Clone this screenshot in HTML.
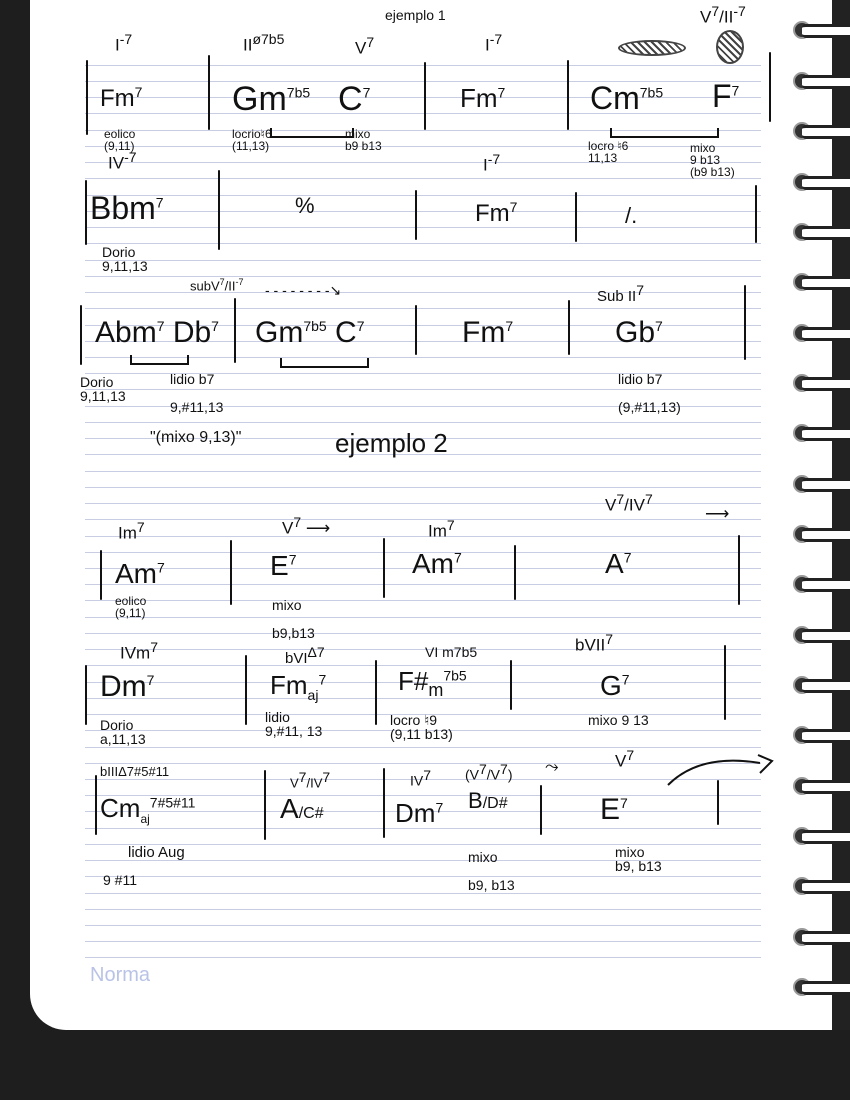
<!DOCTYPE html>
<html><head><meta charset="utf-8"><style>
html,body{margin:0;padding:0}
body{width:850px;height:1100px;position:relative;overflow:hidden;background:#1e1e1e;font-family:"Liberation Sans",sans-serif;color:#111}
#page{position:absolute;left:30px;top:-20px;width:802px;height:1050px;background:#fff;border-radius:0 0 0 36px}
.rl{position:absolute;left:85px;width:676px;height:1px;background:#c9cde3}
.b{position:absolute;width:2px;background:#111;border-radius:1px}
.t{position:absolute;white-space:nowrap;line-height:1}
.c{font-size:28px;font-family:"Liberation Sans",sans-serif;font-weight:normal}
.s{font-size:12px}
.r{font-size:17px}
sup{font-size:14px}
.ring{position:absolute;left:793px;width:57px;height:18px}
.ring .h{position:absolute;left:0;top:0;width:18px;height:18px;border-radius:50%;background:#333;border:2px solid #999;box-sizing:border-box}
.ring .w{position:absolute;left:9px;top:3px;width:48px;height:8px;background:#fff;border-top:3px solid #222;border-bottom:3px solid #222;border-radius:4px 0 0 4px}
#strip{position:absolute;left:832px;top:0;width:18px;height:1030px;background:#222}
.br{position:absolute;border:2px solid #111;border-top:none;height:8px}
</style></head><body>
<div id="page"></div>
<div id="strip"></div>
<div class="rl" style="top:65px"></div><div class="rl" style="top:81px"></div><div class="rl" style="top:97px"></div><div class="rl" style="top:113px"></div><div class="rl" style="top:130px"></div><div class="rl" style="top:146px"></div><div class="rl" style="top:162px"></div><div class="rl" style="top:178px"></div><div class="rl" style="top:195px"></div><div class="rl" style="top:211px"></div><div class="rl" style="top:227px"></div><div class="rl" style="top:243px"></div><div class="rl" style="top:260px"></div><div class="rl" style="top:276px"></div><div class="rl" style="top:292px"></div><div class="rl" style="top:308px"></div><div class="rl" style="top:325px"></div><div class="rl" style="top:341px"></div><div class="rl" style="top:357px"></div><div class="rl" style="top:373px"></div><div class="rl" style="top:389px"></div><div class="rl" style="top:406px"></div><div class="rl" style="top:422px"></div><div class="rl" style="top:438px"></div><div class="rl" style="top:454px"></div><div class="rl" style="top:471px"></div><div class="rl" style="top:487px"></div><div class="rl" style="top:503px"></div><div class="rl" style="top:519px"></div><div class="rl" style="top:536px"></div><div class="rl" style="top:552px"></div><div class="rl" style="top:568px"></div><div class="rl" style="top:584px"></div><div class="rl" style="top:600px"></div><div class="rl" style="top:617px"></div><div class="rl" style="top:633px"></div><div class="rl" style="top:649px"></div><div class="rl" style="top:665px"></div><div class="rl" style="top:682px"></div><div class="rl" style="top:698px"></div><div class="rl" style="top:714px"></div><div class="rl" style="top:730px"></div><div class="rl" style="top:747px"></div><div class="rl" style="top:763px"></div><div class="rl" style="top:779px"></div><div class="rl" style="top:795px"></div><div class="rl" style="top:811px"></div><div class="rl" style="top:828px"></div><div class="rl" style="top:844px"></div><div class="rl" style="top:860px"></div><div class="rl" style="top:876px"></div><div class="rl" style="top:893px"></div><div class="rl" style="top:909px"></div><div class="rl" style="top:925px"></div><div class="rl" style="top:941px"></div><div class="rl" style="top:957px"></div>
<div class="t" style="left:90px;top:965px;font-size:20px;color:#b9c3e6">Norma</div>

<div class="ring" style="top:21px"><div class="h"></div><div class="w"></div></div>
<div class="ring" style="top:72px"><div class="h"></div><div class="w"></div></div>
<div class="ring" style="top:122px"><div class="h"></div><div class="w"></div></div>
<div class="ring" style="top:173px"><div class="h"></div><div class="w"></div></div>
<div class="ring" style="top:223px"><div class="h"></div><div class="w"></div></div>
<div class="ring" style="top:273px"><div class="h"></div><div class="w"></div></div>
<div class="ring" style="top:324px"><div class="h"></div><div class="w"></div></div>
<div class="ring" style="top:374px"><div class="h"></div><div class="w"></div></div>
<div class="ring" style="top:424px"><div class="h"></div><div class="w"></div></div>
<div class="ring" style="top:475px"><div class="h"></div><div class="w"></div></div>
<div class="ring" style="top:525px"><div class="h"></div><div class="w"></div></div>
<div class="ring" style="top:575px"><div class="h"></div><div class="w"></div></div>
<div class="ring" style="top:626px"><div class="h"></div><div class="w"></div></div>
<div class="ring" style="top:676px"><div class="h"></div><div class="w"></div></div>
<div class="ring" style="top:726px"><div class="h"></div><div class="w"></div></div>
<div class="ring" style="top:777px"><div class="h"></div><div class="w"></div></div>
<div class="ring" style="top:827px"><div class="h"></div><div class="w"></div></div>
<div class="ring" style="top:877px"><div class="h"></div><div class="w"></div></div>
<div class="ring" style="top:928px"><div class="h"></div><div class="w"></div></div>
<div class="ring" style="top:978px"><div class="h"></div><div class="w"></div></div>

<!-- Row 1 -->
<div class="b" style="left:86px;top:60px;height:75px"></div>
<div class="b" style="left:208px;top:55px;height:75px"></div>
<div class="b" style="left:424px;top:62px;height:68px"></div>
<div class="b" style="left:567px;top:60px;height:70px"></div>
<div class="b" style="left:769px;top:52px;height:70px"></div>
<div class="t r" style="left:115px;top:32px">I<sup>-7</sup></div>
<div class="t r" style="left:243px;top:32px">II<sup>ø7b5</sup></div>
<div class="t r" style="left:355px;top:35px">V<sup>7</sup></div>
<div class="t s" style="left:385px;top:8px;font-size:14px">ejemplo 1</div>
<div class="t r" style="left:485px;top:32px">I<sup>-7</sup></div>
<div class="t r" style="left:700px;top:4px">V<sup>7</sup>/II<sup>-7</sup></div>
<div class="t" style="left:618px;top:40px;width:64px;height:12px;border:2px solid #444;background:repeating-linear-gradient(45deg,#444 0 2px,#fff 2px 5px);border-radius:50%"></div>
<div class="t" style="left:716px;top:30px;width:24px;height:30px;border:2px solid #444;background:repeating-linear-gradient(45deg,#444 0 2px,#fff 2px 5px);border-radius:50%"></div>
<div class="t c" style="left:100px;top:85px;font-size:24px">Fm<sup>7</sup></div>
<div class="t c" style="left:232px;top:82px;font-size:34px">Gm<sup>7b5</sup></div>
<div class="t c" style="left:338px;top:82px;font-size:34px">C<sup>7</sup></div>
<div class="t c" style="left:460px;top:85px;font-size:26px">Fm<sup>7</sup></div>
<div class="t c" style="left:590px;top:82px;font-size:32px">Cm<sup>7b5</sup></div>
<div class="t c" style="left:712px;top:80px;font-size:32px">F<sup>7</sup></div>
<div class="br" style="left:270px;top:128px;width:80px"></div>
<div class="br" style="left:610px;top:128px;width:105px"></div>
<div class="t s" style="left:104px;top:128px">eolico<br>(9,11)</div>
<div class="t s" style="left:232px;top:128px">locrio♮6<br>(11,13)</div>
<div class="t s" style="left:345px;top:128px">mixo<br>b9 b13</div>
<div class="t s" style="left:588px;top:140px">locro ♮6<br>11,13</div>
<div class="t s" style="left:690px;top:142px">mixo<br>9 b13<br>(b9 b13)</div>

<!-- Row 2 -->
<div class="t r" style="left:108px;top:150px">IV<sup>-7</sup></div>
<div class="t r" style="left:483px;top:152px">I<sup>-7</sup></div>
<div class="b" style="left:85px;top:180px;height:65px"></div>
<div class="b" style="left:218px;top:170px;height:80px"></div>
<div class="b" style="left:415px;top:190px;height:50px"></div>
<div class="b" style="left:575px;top:192px;height:50px"></div>
<div class="b" style="left:755px;top:185px;height:58px"></div>
<div class="t c" style="left:90px;top:192px;font-size:32px">Bbm<sup>7</sup></div>
<div class="t c" style="left:295px;top:195px;font-size:22px">%</div>
<div class="t c" style="left:475px;top:200px;font-size:24px">Fm<sup>7</sup></div>
<div class="t c" style="left:625px;top:205px;font-size:22px">/.</div>
<div class="t s" style="left:102px;top:245px;font-size:14px">Dorio<br>9,11,13</div>

<!-- Row 3 -->
<div class="t s" style="left:190px;top:278px;font-size:13px">subV<sup style="font-size:9px">7</sup>/II<sup style="font-size:9px">-7</sup></div>
<div class="t s" style="left:265px;top:283px;font-size:14px">- - - - - - - -↘</div>
<div class="t r" style="left:597px;top:283px;font-size:15px">Sub II<sup>7</sup></div>
<div class="b" style="left:80px;top:305px;height:60px"></div>
<div class="b" style="left:234px;top:298px;height:65px"></div>
<div class="b" style="left:415px;top:305px;height:50px"></div>
<div class="b" style="left:568px;top:300px;height:55px"></div>
<div class="b" style="left:744px;top:285px;height:75px"></div>
<div class="t c" style="left:95px;top:318px;font-size:30px">Abm<sup>7</sup> Db<sup>7</sup></div>
<div class="t c" style="left:255px;top:318px;font-size:30px">Gm<sup>7b5</sup> C<sup>7</sup></div>
<div class="t c" style="left:462px;top:318px;font-size:30px">Fm<sup>7</sup></div>
<div class="t c" style="left:615px;top:318px;font-size:30px">Gb<sup>7</sup></div>
<div class="br" style="left:130px;top:355px;width:55px"></div>
<div class="br" style="left:280px;top:358px;width:85px"></div>
<div class="t s" style="left:80px;top:375px;font-size:14px">Dorio<br>9,11,13</div>
<div class="t s" style="left:170px;top:372px;font-size:14px">lidio b7<br><br>9,#11,13</div>
<div class="t s" style="left:150px;top:430px;font-size:16px">"(mixo 9,13)"</div>
<div class="t s" style="left:618px;top:372px;font-size:14px">lidio b7<br><br>(9,#11,13)</div>
<div class="t" style="left:335px;top:430px;font-size:26px">ejemplo 2</div>

<!-- Row 4 -->
<div class="t r" style="left:118px;top:520px">Im<sup>7</sup></div>
<div class="t r" style="left:282px;top:515px">V<sup>7</sup> ⟶</div>
<div class="t r" style="left:428px;top:518px">Im<sup>7</sup></div>
<div class="t r" style="left:605px;top:492px">V<sup>7</sup>/IV<sup>7</sup></div>
<div class="t r" style="left:705px;top:505px">⟶</div>
<div class="b" style="left:100px;top:550px;height:50px"></div>
<div class="b" style="left:230px;top:540px;height:65px"></div>
<div class="b" style="left:383px;top:538px;height:60px"></div>
<div class="b" style="left:514px;top:545px;height:55px"></div>
<div class="b" style="left:738px;top:535px;height:70px"></div>
<div class="t c" style="left:115px;top:560px;font-size:28px">Am<sup>7</sup></div>
<div class="t c" style="left:270px;top:552px;font-size:28px">E<sup>7</sup></div>
<div class="t c" style="left:412px;top:550px;font-size:28px">Am<sup>7</sup></div>
<div class="t c" style="left:605px;top:550px;font-size:28px">A<sup>7</sup></div>
<div class="t s" style="left:115px;top:595px">eolico<br>(9,11)</div>
<div class="t s" style="left:272px;top:598px;font-size:14px">mixo<br><br>b9,b13</div>

<!-- Row 5 -->
<div class="t r" style="left:120px;top:640px">IVm<sup>7</sup></div>
<div class="t r" style="left:285px;top:645px;font-size:15px">bVI<sup>Δ7</sup></div>
<div class="t r" style="left:425px;top:645px;font-size:14px">VI m7b5</div>
<div class="t r" style="left:575px;top:632px">bVII<sup>7</sup></div>
<div class="b" style="left:85px;top:665px;height:60px"></div>
<div class="b" style="left:245px;top:655px;height:70px"></div>
<div class="b" style="left:375px;top:660px;height:65px"></div>
<div class="b" style="left:510px;top:660px;height:50px"></div>
<div class="b" style="left:724px;top:645px;height:75px"></div>
<div class="t c" style="left:100px;top:672px;font-size:30px">Dm<sup>7</sup></div>
<div class="t c" style="left:270px;top:672px;font-size:26px">Fm<sub style="font-size:14px">aj</sub><sup>7</sup></div>
<div class="t c" style="left:398px;top:668px;font-size:26px">F#<sub style="font-size:18px">m</sub><sup>7b5</sup></div>
<div class="t c" style="left:600px;top:672px;font-size:28px">G<sup>7</sup></div>
<div class="t s" style="left:100px;top:718px;font-size:14px">Dorio<br>a,11,13</div>
<div class="t s" style="left:265px;top:710px;font-size:14px">lidio<br>9,#11, 13</div>
<div class="t s" style="left:390px;top:713px;font-size:14px">locro ♮9<br>(9,11 b13)</div>
<div class="t s" style="left:588px;top:713px;font-size:14px">mixo 9 13</div>

<!-- Row 6 -->
<div class="t r" style="left:100px;top:765px;font-size:13px">bIIIΔ7#5#11</div>
<div class="t r" style="left:290px;top:770px;font-size:13px">V<sup>7</sup>/IV<sup>7</sup></div>
<div class="t r" style="left:410px;top:768px;font-size:14px">IV<sup>7</sup></div>
<div class="t r" style="left:465px;top:762px;font-size:14px">(V<sup>7</sup>/V<sup>7</sup>)</div>
<div class="t r" style="left:545px;top:758px">⤳</div>
<div class="t r" style="left:615px;top:748px">V<sup>7</sup></div>
<svg style="position:absolute;left:660px;top:745px" width="120" height="50"><path d="M8 40 Q40 8 100 18" fill="none" stroke="#111" stroke-width="2"/><path d="M98 10 L112 16 L100 28" fill="none" stroke="#111" stroke-width="2"/></svg>
<div class="b" style="left:95px;top:775px;height:60px"></div>
<div class="b" style="left:264px;top:770px;height:70px"></div>
<div class="b" style="left:383px;top:768px;height:70px"></div>
<div class="b" style="left:540px;top:785px;height:50px"></div>
<div class="b" style="left:717px;top:780px;height:45px"></div>
<div class="t c" style="left:100px;top:795px;font-size:26px">Cm<sub style="font-size:12px">aj</sub><sup>7#5#11</sup></div>
<div class="t c" style="left:280px;top:795px;font-size:28px">A<span style="font-size:16px">/C#</span></div>
<div class="t c" style="left:395px;top:800px;font-size:26px">Dm<sup>7</sup></div>
<div class="t c" style="left:468px;top:790px;font-size:22px">B<span style="font-size:16px">/D#</span></div>
<div class="t c" style="left:600px;top:795px;font-size:30px">E<sup>7</sup></div>
<div class="t s" style="left:128px;top:845px;font-size:15px">lidio Aug</div>
<div class="t s" style="left:103px;top:873px;font-size:14px">9 #11</div>
<div class="t s" style="left:468px;top:850px;font-size:14px">mixo<br><br>b9, b13</div>
<div class="t s" style="left:615px;top:845px;font-size:14px">mixo<br>b9, b13</div>
</body></html>
